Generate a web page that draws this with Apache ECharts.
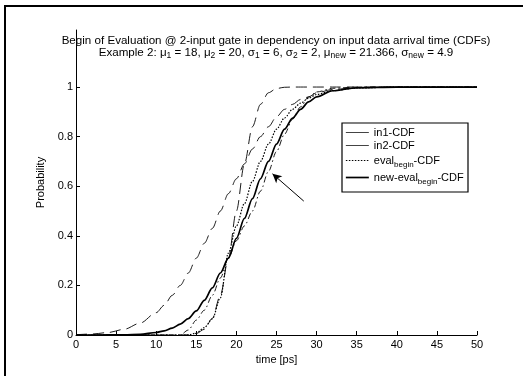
<!DOCTYPE html>
<html><head><meta charset="utf-8">
<script src="https://cdn.jsdelivr.net/npm/echarts@6/dist/echarts.min.js"></script>
<style>html,body{margin:0;padding:0;background:#fff}#c{width:523px;height:376px}</style>
</head><body><div id="c"></div>
<script>
// ---- data ----
const xs        = [0, 2, 4, 6, 8, 10, 11, 12, 13, 14, 15, 16, 17, 18, 19, 20, 21, 22, 23, 24, 25, 26, 27, 28, 29, 30, 32, 35, 40, 45, 50];
const in1       = [0.001, 0.004, 0.01, 0.023, 0.048, 0.09, 0.12, 0.16, 0.2, 0.25, 0.31, 0.37, 0.43, 0.5, 0.57, 0.63, 0.69, 0.75, 0.8, 0.84, 0.88, 0.91, 0.93, 0.95, 0.96, 0.977, 0.99, 0.998, 1, 1, 1];
const in2       = [0, 0, 0, 0, 0, 0, 0, 0, 0, 0.001, 0.006, 0.023, 0.067, 0.16, 0.31, 0.5, 0.69, 0.84, 0.93, 0.977, 0.994, 0.999, 1, 1, 1, 1, 1, 1, 1, 1, 1];
const evalBegin = [0, 0, 0, 0, 0, 0, 0, 0, 0, 0, 0.008, 0.03, 0.065, 0.15, 0.33, 0.44, 0.53, 0.62, 0.7, 0.77, 0.83, 0.875, 0.91, 0.935, 0.955, 0.97, 0.985, 0.996, 1, 1, 1];
const newEval   = [0, 0, 0.0002, 0.001, 0.003, 0.01, 0.017, 0.028, 0.044, 0.066, 0.097, 0.14, 0.19, 0.25, 0.31, 0.39, 0.47, 0.55, 0.63, 0.7, 0.77, 0.83, 0.875, 0.91, 0.94, 0.96, 0.985, 0.997, 1, 1, 1];
const extraCdf  = [0, 0, 0, 0, 0, 0, 0, 0, 0, 0.02, 0.06, 0.1, 0.16, 0.23, 0.31, 0.38, 0.44, 0.5, 0.58, 0.66, 0.74, 0.81, 0.87, 0.92, 0.96, 0.98, 0.995, 1, 1, 1, 1];
const xTicks    = [0, 5, 10, 15, 20, 25, 30, 35, 40, 45, 50];
const yTicks    = [0, 0.2, 0.4, 0.6, 0.8, 1];
const arrowFrom = [28.4, 0.54];
const arrowTo   = [24.5, 0.65];
const seriesNames = ['in1-CDF', 'in2-CDF', 'eval_begin-CDF', 'new-eval_begin-CDF'];
const legendLabels = ['in1-CDF', 'in2-CDF', 'eval{sub|begin}-CDF', 'new-eval{sub|begin}-CDF'];
const titleLine1 = 'Begin of Evaluation @ 2-input gate in dependency on input data arrival time (CDFs)';
const titleLine2 = 'Example 2: μ{sub|1} = 18, μ{sub|2} = 20, σ{sub|1} = 6, σ{sub|2} = 2, μ{sub|new} = 21.366, σ{sub|new} = 4.9';

const FONT = '"Liberation Sans", Arial, Helvetica, sans-serif';
const pairs = arr => xs.map((x, i) => [x, arr[i]]);
const legendRich = { sub: { fontSize: 8, fontFamily: FONT, color: '#000', verticalAlign: 'bottom', lineHeight: 17 } };
const titleRich = { sub: { fontSize: 8.5, fontFamily: FONT, color: '#000', verticalAlign: 'bottom', lineHeight: 14 } };

const chart = echarts.init(document.getElementById('c'), null, { renderer: 'canvas' });
const baseLine = { type: 'line', showSymbol: false, symbol: 'none', smooth: 0.3, smoothMonotone: 'x', animation: false, z: 3, color: '#000' };

chart.setOption({
  backgroundColor: '#fff',
  animation: false,
  title: {
    text: titleLine1 + '\n' + titleLine2,
    left: 276, top: 35, textAlign: 'center', padding: 0,
    textStyle: { fontSize: 11.6, fontWeight: 'normal', fontFamily: FONT, color: '#000', lineHeight: 11, rich: titleRich }
  },
  grid: { left: 76, right: 46, top: 30, bottom: 41, containLabel: false },
  xAxis: {
    type: 'value', min: 0, max: 50, interval: 5,
    name: 'time [ps]', nameLocation: 'middle', nameGap: 19,
    nameTextStyle: { fontSize: 11, fontFamily: FONT, color: '#000' },
    axisLine: { lineStyle: { color: '#000', width: 1 } },
    axisTick: { inside: true, length: 4, lineStyle: { color: '#000' }, customValues: xTicks },
    axisLabel: { fontSize: 11, fontFamily: FONT, color: '#000', margin: 4, customValues: xTicks },
    splitLine: { show: false }
  },
  yAxis: {
    type: 'value', min: 0, max: 1.23,
    name: 'Probability', nameLocation: 'middle', nameGap: 22, nameRotate: 90,
    nameTextStyle: { fontSize: 11, fontFamily: FONT, color: '#000' },
    axisLine: { show: true, lineStyle: { color: '#000', width: 1 } },
    axisTick: { show: true, inside: true, length: 4, lineStyle: { color: '#000' }, customValues: yTicks },
    axisLabel: { fontSize: 11, fontFamily: FONT, color: '#000', margin: 3, customValues: yTicks,
      formatter: v => String(Math.round(v * 10) / 10) },
    splitLine: { show: false }
  },
  legend: {
    orient: 'vertical', left: 345, top: 126, padding: 0, itemGap: 0,
    itemWidth: 23, itemHeight: 10,
    itemStyle: { opacity: 0 },
    data: [
      { name: seriesNames[0], lineStyle: { type: 'solid', width: 1, color: '#444' } },
      { name: seriesNames[1], lineStyle: { type: 'solid', width: 1, color: '#444' } },
      { name: seriesNames[2], lineStyle: { type: [1.5, 1.5], width: 1.2, color: '#000' } },
      { name: seriesNames[3], lineStyle: { type: 'solid', width: 1.7, color: '#000' } }
    ],
    formatter: n => legendLabels[seriesNames.indexOf(n)],
    textStyle: { fontSize: 11, fontFamily: FONT, color: '#000', lineHeight: 13, rich: legendRich }
  },
  graphic: [
    { type: 'rect', shape: { x: 342, y: 123, width: 126, height: 69 }, style: { fill: 'none', stroke: '#000', lineWidth: 1.2 }, z: 10 },
    { type: 'line', shape: { x1: 4, y1: 6, x2: 523, y2: 6 }, style: { stroke: '#000', lineWidth: 2 } },
    { type: 'line', shape: { x1: 5, y1: 5, x2: 5, y2: 376 }, style: { stroke: '#000', lineWidth: 2 } }
  ],
  series: [
    Object.assign({}, baseLine, { name: seriesNames[0], data: pairs(in1), lineStyle: { color: '#000', width: 0.9, type: [11, 6] } }),
    Object.assign({}, baseLine, { name: seriesNames[1], data: pairs(in2), lineStyle: { color: '#000', width: 0.9, type: [11, 6] } }),
    Object.assign({}, baseLine, { name: seriesNames[2], data: pairs(evalBegin), lineStyle: { color: '#000', width: 1.2, type: [1.5, 1.5] } }),
    Object.assign({}, baseLine, { name: seriesNames[3], data: pairs(newEval), lineStyle: { color: '#000', width: 1.7, type: 'solid' },
      markLine: { silent: true, symbol: ['none', 'arrow'], symbolSize: [7, 9], label: { show: false },
        lineStyle: { color: '#000', width: 1, type: 'solid' },
        data: [[{ coord: arrowFrom }, { coord: arrowTo }]] } }),
    Object.assign({}, baseLine, { name: 'sim', data: pairs(extraCdf), lineStyle: { color: '#000', width: 0.9, type: [6, 3, 1.5, 3] } })
  ]
});
</script></body></html>
